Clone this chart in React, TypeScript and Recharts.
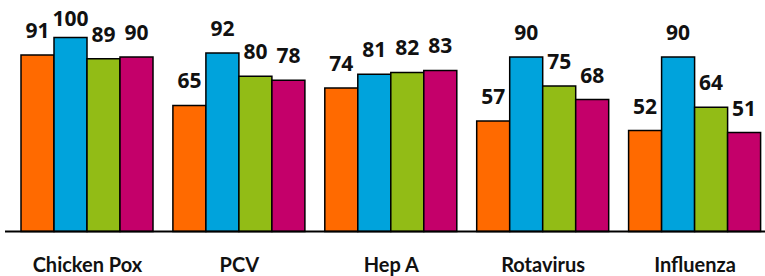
import { Bar, BarChart, LabelList, XAxis, YAxis } from 'recharts';

const categories = ['Chicken Pox', 'PCV', 'Hep A', 'Rotavirus', 'Influenza'];
const seriesA = [91, 65, 74, 57, 52];
const seriesB = [100, 92, 81, 90, 90];
const seriesC = [89, 80, 82, 75, 64];
const seriesD = [90, 78, 83, 68, 51];

const COLORS = ['#FF6A00', '#00A3DC', '#92BC16', '#C4006A'];
const VALUE_FONT = '"Open Sans", sans-serif';
const TICK_FONT = 'Lato, "Open Sans", sans-serif';

const chartData = categories.map((name, i) => ({
  name,
  a: seriesA[i],
  b: seriesB[i],
  c: seriesC[i],
  d: seriesD[i],
}));

const ValueLabel = (props: any) => {
  const { x, y, width, value } = props;
  // labels sit ~17px above the bar, but never above the top of the picture
  const ty = Math.max(y - 17, 26);
  return (
    <text
      x={x + width / 2}
      y={ty}
      textAnchor="middle"
      fontFamily={VALUE_FONT}
      fontWeight={700}
      fontSize={21}
      fill="#111"
    >
      {value}
    </text>
  );
};

const CategoryTick = (props: any) => {
  const { x, y, payload } = props;
  return (
    <text
      x={x}
      y={y + 40}
      textAnchor="middle"
      fontFamily={TICK_FONT}
      fontWeight={700}
      fontSize={20}
      fill="#111"
    >
      {payload.value}
    </text>
  );
};

export default function App() {
  return (
    <div style={{ position: 'absolute', left: 0, top: 0, width: 765, height: 276, overflow: 'hidden', background: '#fff' }}>
      <BarChart
        width={771}
        height={276}
        data={chartData}
        margin={{ top: 37.5, right: 0, left: 5, bottom: 0 }}
        barCategoryGap={9.5}
        barGap={0}
      >
        <XAxis
          dataKey="name"
          height={44.5}
          padding={{ left: 6.5, right: 0 }}
          tickLine={false}
          tickSize={0}
          tickMargin={0}
          axisLine={{ stroke: '#000', strokeWidth: 2 }}
          tick={<CategoryTick />}
          interval={0}
        />
        <YAxis hide domain={[0, 100]} />
        {(['a', 'b', 'c', 'd'] as const).map((key, i) => (
          <Bar key={key} dataKey={key} fill={COLORS[i]} stroke="#000" strokeWidth={1.5} isAnimationActive={false}>
            <LabelList dataKey={key} content={<ValueLabel />} />
          </Bar>
        ))}
      </BarChart>
    </div>
  );
}
